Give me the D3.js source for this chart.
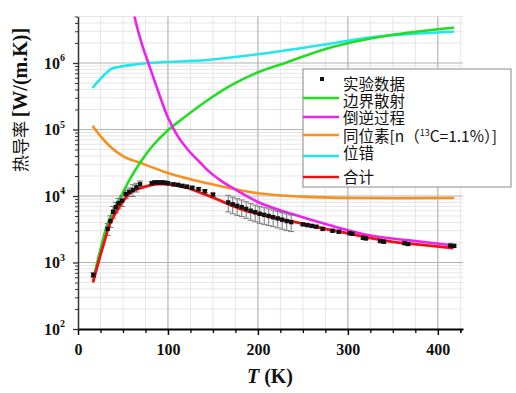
<!DOCTYPE html>
<html><head><meta charset="utf-8">
<script src="https://cdn.jsdelivr.net/npm/d3@7"></script>
<style>
html,body{margin:0;padding:0;background:#fff;}
svg{display:block;}
</style></head>
<body>
<svg id="chart" width="516" height="393"></svg>
<script>
// ---------------- data ----------------
const xTicks = [0, 100, 200, 300, 400];
const yTicks = [1e2, 1e3, 1e4, 1e5, 1e6];

const boundaryT = [17,25,32,40,49,58,69,84,100,114,144,171,200,232,280,343,417];
const boundaryK = [562,1580,3550,6300,10700,18200,31600,58900,97700,138000,275000,468000,724000,1020000,1700000,2570000,3390000];

const umklappT = [60,63,70,78,89,100,110,122,136,144,160,172,200,240,280,324,370,416];
const umklappK = [7940000,4900000,2140000,1020000,380000,151000,83200,50100,31600,24500,16600,13200,8130,5250,3630,2570,2140,1820];

const isotopeT = [17,25,36,50,69,99,144,200,250,300,360,417];
const isotopeK = [110000,79400,55000,39800,31600,22400,15500,11000,9770,9330,9230,9330];

const dislocT = [17,37,45,59,78,144,200,280,336,417];
const dislocK = [436000,813000,871000,933000,1000000,1110000,1350000,1950000,2510000,2950000];

const totalT = [17,25,30,33,38,44,50,56,63,70,80,89,100,110,122,136,144,160,172,186,200,220,239,260,280,300,324,350,380,416];
const totalK = [520,1300,2200,3100,4500,6200,8300,10500,12300,13200,14500,15100,15100,14300,13200,11200,10200,8300,7100,6000,5400,4600,4100,3550,3100,2750,2350,2050,1850,1650];

const expT = [17,33,36,39,42,45,49,53,57,61,65,69,82,85,88,91,94,97,100,106,111,116,121,127,134,141,150,167,172,177,182,187,192,197,202,207,212,217,222,227,232,237,250,255,260,265,272,283,290,302,305,317,320,336,340,363,367,414,418];
const expK = [650,3200,4200,5800,6800,7800,8500,10700,11500,12300,13500,15000,15500,16000,16000,16000,16000,15800,15500,15000,14700,14200,13800,13300,12700,11800,10500,8000,7500,7100,6800,6400,6000,5700,5400,5200,5000,4800,4600,4400,4200,4050,3750,3650,3550,3450,3200,3000,2900,2750,2700,2350,2300,2100,2050,1950,1900,1800,1780];
const expErr = [0.08,0.2,0.2,0.2,0.18,0.18,0.18,0.15,0.15,0.2,0.15,0.12,0.05,0.05,0.05,0.05,0.05,0.05,0.05,0.05,0.05,0.05,0.05,0.05,0.05,0.05,0.05,0.28,0.28,0.28,0.28,0.28,0.28,0.28,0.28,0.28,0.28,0.28,0.28,0.28,0.28,0.28,0.04,0.04,0.04,0.04,0.04,0.04,0.04,0.04,0.04,0.04,0.04,0.04,0.04,0.04,0.04,0.04,0.04];

const legendLabels = ["实验数据","边界散射","倒逆过程","同位素","位错","合计"];

// ---------------- layout ----------------
const svg = d3.select("#chart");
const x = d3.scaleLinear().domain([0, 428]).range([78, 463]);
const y = d3.scaleLog().domain([100, 5e6]).range([329, 16.5]);
const [x0, x1] = x.range();
const [yb, yt] = y.range();

svg.append("defs").append("clipPath").attr("id","clip")
  .append("rect").attr("x", x0).attr("y", yt).attr("width", x1 - x0).attr("height", yb - yt);

// grid
const grid = svg.append("g");
const xMinor = d3.range(25, 428, 25).filter(v => v % 100 !== 0);
const yMinor = [];
for (let e = 2; e <= 6; e++) for (let m = 2; m <= 9; m++) { const v = m * Math.pow(10, e); if (v <= 5e6) yMinor.push(v); }
grid.selectAll(".xm").data(xMinor).enter().append("line")
  .attr("x1", d => x(d)).attr("x2", d => x(d)).attr("y1", yt).attr("y2", yb)
  .attr("stroke", "#e6e6e6").attr("stroke-width", 1);
grid.selectAll(".ym").data(yMinor).enter().append("line")
  .attr("x1", x0).attr("x2", x1).attr("y1", d => y(d)).attr("y2", d => y(d))
  .attr("stroke", "#e6e6e6").attr("stroke-width", 1);
grid.selectAll(".xM").data(xTicks.slice(1)).enter().append("line")
  .attr("x1", d => x(d)).attr("x2", d => x(d)).attr("y1", yt).attr("y2", yb)
  .attr("stroke", "#b4b4b4").attr("stroke-width", 1.2);
grid.selectAll(".yM").data(yTicks.slice(1)).enter().append("line")
  .attr("x1", x0).attr("x2", x1).attr("y1", d => y(d)).attr("y2", d => y(d))
  .attr("stroke", "#b4b4b4").attr("stroke-width", 1.2);

// curves
const plot = svg.append("g").attr("clip-path", "url(#clip)");
const line = d3.line().x(d => x(d[0])).y(d => y(d[1])).curve(d3.curveMonotoneX);
const zip = (a, b) => a.map((v, i) => [v, b[i]]);

const series = [
  {T: isotopeT, K: isotopeK, color: "#f7901e", gen: line},
  {T: dislocT, K: dislocK, color: "#22e8ee", gen: d3.line().x(d => x(d[0])).y(d => y(d[1])).curve(d3.curveCatmullRom.alpha(0.5))},
  {T: boundaryT, K: boundaryK, color: "#22dd22", gen: d3.line().x(d => x(d[0])).y(d => y(d[1])).curve(d3.curveCatmullRom.alpha(0.5))},
  {T: umklappT, K: umklappK, color: "#ee22ee", gen: line},
];
series.forEach(s => {
  plot.append("path").attr("d", s.gen(zip(s.T, s.K)))
    .attr("fill", "none").attr("stroke", s.color).attr("stroke-width", 2.6)
    .attr("stroke-linejoin", "round").attr("stroke-linecap", "round");
});

// experimental data
const expData = expT.map((t, i) => ({t, k: expK[i], e: expErr[i]}));
const eb = plot.append("g").attr("stroke", "#777").attr("stroke-width", 1);
expData.forEach(d => {
  const yu = y(d.k * (1 + d.e)), yl = y(d.k * (1 - d.e)), xx = x(d.t);
  eb.append("line").attr("x1", xx).attr("x2", xx).attr("y1", yu).attr("y2", yl);
  eb.append("line").attr("x1", xx - 3).attr("x2", xx + 3).attr("y1", yu).attr("y2", yu);
  eb.append("line").attr("x1", xx - 3).attr("x2", xx + 3).attr("y1", yl).attr("y2", yl);
});

// total
plot.append("path").attr("d", line(zip(totalT, totalK)))
  .attr("fill", "none").attr("stroke", "#ee1111").attr("stroke-width", 2.8)
  .attr("stroke-linejoin", "round").attr("stroke-linecap", "round");

plot.append("g").selectAll("rect").data(expData).enter().append("rect")
  .attr("x", d => x(d.t) - 2.2).attr("y", d => y(d.k) - 2.2)
  .attr("width", 4.4).attr("height", 4.4).attr("fill", "#111");

// axes
const serif = "'Liberation Serif','Times New Roman',serif";
const xAxisMinor = svg.append("g").attr("transform", `translate(0,${yb})`)
  .call(d3.axisBottom(x).tickValues(xMinor.concat([425])).tickSize(4).tickFormat(""));
xAxisMinor.select(".domain").remove();
xAxisMinor.selectAll("line").attr("stroke", "#000").attr("stroke-width", 1.3);

const xAxis = svg.append("g").attr("transform", `translate(0,${yb})`)
  .call(d3.axisBottom(x).tickValues(xTicks).tickSize(6).tickPadding(9).tickSizeOuter(0));
xAxis.select(".domain").attr("stroke", "#000").attr("stroke-width", 2);
xAxis.selectAll("line").attr("stroke", "#000").attr("stroke-width", 1.5);
xAxis.selectAll("text").attr("font-family", serif).attr("font-weight", "bold")
  .attr("font-size", 16).attr("fill", "#111");

const yAxisMinor = svg.append("g").attr("transform", `translate(${x0},0)`)
  .call(d3.axisLeft(y).tickValues(yMinor).tickSize(3).tickFormat(""));
yAxisMinor.select(".domain").remove();
yAxisMinor.selectAll("line").attr("stroke", "#333").attr("stroke-width", 1);

const yAxis = svg.append("g").attr("transform", `translate(${x0},0)`)
  .call(d3.axisLeft(y).tickValues(yTicks).tickSize(5).tickPadding(8).tickSizeOuter(0));
yAxis.select(".domain").attr("stroke", "#333").attr("stroke-width", 1.5);
yAxis.selectAll("line").attr("stroke", "#333").attr("stroke-width", 1.3);
yAxis.selectAll(".tick text").each(function(d) {
  const t = d3.select(this);
  t.text("").attr("font-family", serif).attr("font-weight", "bold")
    .attr("font-size", 16).attr("fill", "#111").attr("dy", "0.32em");
  t.append("tspan").text("10");
  t.append("tspan").text(Math.round(Math.log10(d))).attr("font-size", 10).attr("dy", "-0.75em");
});

// axis titles
svg.append("text").attr("x", 270).attr("y", 383).attr("text-anchor", "middle")
  .attr("font-family", serif).attr("font-weight", "bold").attr("font-size", 20).attr("fill", "#111")
  .call(t => {
    t.append("tspan").text("T").attr("font-style", "italic");
    t.append("tspan").text(" (K)");
  });

svg.append("text").attr("transform", "translate(27,100) rotate(-90)").attr("text-anchor", "middle")
  .attr("fill", "#111")
  .call(t => {
    t.append("tspan").text("热导率 ").attr("font-family", "'Noto Sans CJK SC',sans-serif").attr("font-size", 17);
    t.append("tspan").text("[W/(m.K)]").attr("font-family", serif).attr("font-weight", "bold").attr("font-size", 20);
  });

// legend
const lg = svg.append("g");
lg.append("rect").attr("x", 303).attr("y", 69).attr("width", 208).attr("height", 118)
  .attr("fill", "#fff").attr("stroke", "#8c8c8c").attr("stroke-width", 1);
const cjk = "'Noto Sans CJK SC','Noto Sans',sans-serif";
const legendColors = [null, "#22dd22", "#ee22ee", "#f7901e", "#22e8ee", "#ee1111"];
const textY = [84, 101, 118, 136, 153, 177];
const lineY = [79, 98, 117, 135, 156, 177];
legendLabels.forEach((lab, i) => {
  if (i === 0) {
    lg.append("rect").attr("x", 320).attr("y", lineY[0] - 2).attr("width", 4).attr("height", 4).attr("fill", "#111");
  } else {
    lg.append("line").attr("x1", 303).attr("x2", 339).attr("y1", lineY[i]).attr("y2", lineY[i])
      .attr("stroke", legendColors[i]).attr("stroke-width", 2.6);
  }
  const t = lg.append("text").attr("x", 343).attr("y", textY[i]).attr("dy", "0.36em")
    .attr("font-family", cjk).attr("font-size", 15.5).attr("fill", "#111");
  if (i === 3) {
    t.append("tspan").text("同位素[n（");
    t.append("tspan").text("13").attr("font-size", 9).attr("dy", "-0.6em");
    t.append("tspan").text("C=1.1%）]").attr("dy", "0.35em");
  } else {
    t.text(lab);
  }
});
</script>
</body></html>
